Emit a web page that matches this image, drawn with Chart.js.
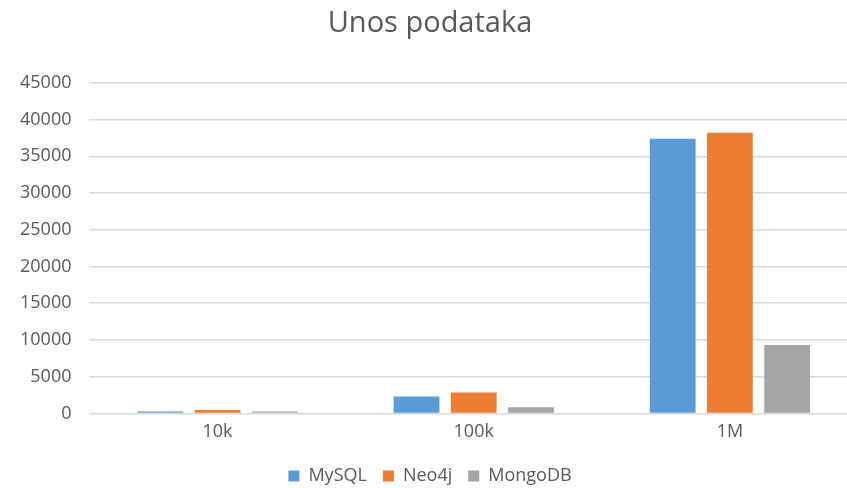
<!DOCTYPE html>
<html>
<head>
<meta charset="utf-8">
<script src="https://cdn.jsdelivr.net/npm/chart.js@4"></script>
<style>
  html, body { margin: 0; padding: 0; background: #fff; overflow: hidden; }
  #wrap { width: 870px; height: 495px; }
</style>
</head>
<body>
<div id="wrap"><canvas id="chart"></canvas></div>
<script>
var categories = ["10k", "100k", "1M"];
var mysqlValues = [270, 2300, 37400];
var neo4jValues = [450, 2850, 38200];
var mongoValues = [250, 850, 9300];

var textColor = "#595959";
var fontFamily = "'Open Sans', 'Liberation Sans', sans-serif";

new Chart(document.getElementById("chart"), {
    type: 'bar',
    data: {
        labels: categories,
        datasets: [
            { label: "MySQL", backgroundColor: "#5B9BD5", data: mysqlValues },
            { label: "Neo4j", backgroundColor: "#ED7D31", data: neo4jValues },
            { label: "MongoDB", backgroundColor: "#A5A5A5", data: mongoValues }
        ]
    },
    options: {
        responsive: true,
        maintainAspectRatio: false,
        animation: false,
        layout: { padding: { left: 2, right: 12, top: 6, bottom: 0 } },
        datasets: { bar: { categoryPercentage: 0.67, barPercentage: 0.8 } },
        plugins: {
            title: {
                display: true,
                text: 'Unos podataka',
                color: textColor,
                font: { family: fontFamily, size: 29, weight: 'normal' },
                padding: { top: 0, bottom: 42 }
            },
            legend: {
                position: 'bottom',
                labels: {
                    color: textColor,
                    font: { family: fontFamily, size: 18 },
                    boxWidth: 11,
                    boxHeight: 11,
                    padding: 16
                }
            },
            tooltip: { enabled: false }
        },
        scales: {
            x: {
                grid: { display: false, drawTicks: false },
                border: { display: false },
                ticks: { color: textColor, font: { family: fontFamily, size: 18 }, padding: 8 }
            },
            y: {
                min: 0,
                max: 45000,
                grid: { color: "#D9D9D9", lineWidth: 1.5, drawTicks: false },
                border: { display: false },
                ticks: {
                    stepSize: 5000,
                    color: textColor,
                    font: { family: fontFamily, size: 18 },
                    padding: 18,
                    callback: function(value) { return String(value); }
                }
            }
        }
    }
});
</script>
</body>
</html>
